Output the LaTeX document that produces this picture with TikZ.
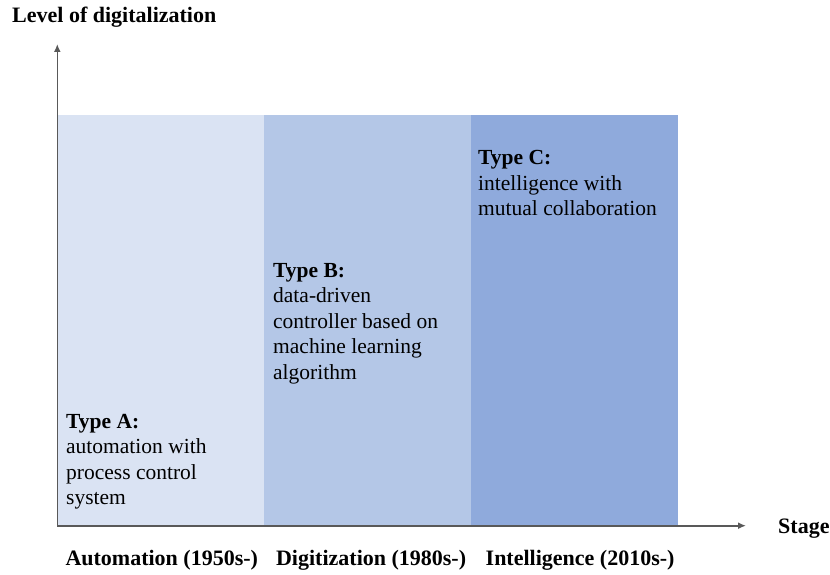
\documentclass[tikz,border=0pt]{standalone}
\usepackage{fontspec}
\setmainfont{Liberation Serif}
\usepackage{xcolor}
\usetikzlibrary{arrows.meta,positioning}

\definecolor{stageA}{HTML}{DAE3F3}
\definecolor{stageB}{HTML}{B4C7E7}
\definecolor{stageC}{HTML}{8FAADC}
\definecolor{axisgray}{HTML}{595959}

\begin{document}
\begin{tikzpicture}[
    x=1pt, y=1pt,
    font=\fontsize{21.5}{25.5}\selectfont,
    % Styles
    stagebox/.style={
        rectangle,
        fill=#1,
        draw=#1,
        line width=0.6pt,
        inner sep=0pt,
        minimum width=206pt,
        minimum height=410.4pt,
        anchor=south west
    },
    typetext/.style={
        anchor=base west,
        align=left,
        inner sep=0pt
    },
    axislabel/.style={
        anchor=base west,
        inner sep=0pt,
        font=\fontsize{22}{26}\selectfont\bfseries
    },
    % Line Styles
    axis/.style={draw=axisgray, line width=1.6pt, -{Latex[length=8pt,width=7pt]}}
]

\useasboundingbox (0,0) rectangle (830,574);

% --- Stages ---
\coordinate (O) at (57.3,48.3);
\node[stagebox=stageA] (A) at (O) {};
\node[stagebox=stageB] (B) at (A.south east) {};
\node[stagebox=stageC] (C) at (B.south east) {};

% --- Axes ---
\coordinate (ytip) at (57.3,530);
\coordinate (xtip) at (746,48.3);
\draw[axis] (O) -- (ytip);
\draw[axis] (O) -- (xtip);

\node[axislabel] (ylabel) at (12,551) {Level of digitalization};
\node[axislabel] (xlabel) at (778,41) {Stage};

% --- Stage names ---
\node[axislabel] (nameA) at ([xshift=8pt,yshift=-40pt]A.south west) {Automation (1950s-)};
\node[axislabel] (nameB) at ([xshift=12pt,yshift=-40pt]B.south west) {Digitization (1980s-)};
\node[axislabel] (nameC) at ([xshift=15pt,yshift=-40pt]C.south west) {Intelligence (2010s-)};

% --- Types (anchored on the last line) ---
\node[typetext] (typeA) at (66,69.5) {\textbf{Type A:}\\automation with\\process control\\system};
\node[typetext] (typeB) at (273,195) {\textbf{Type B:}\\data-driven\\controller based on\\machine learning\\algorithm};
\node[typetext] (typeC) at (478,358) {\textbf{Type C:}\\intelligence with\\mutual collaboration};

\end{tikzpicture}
\end{document}
